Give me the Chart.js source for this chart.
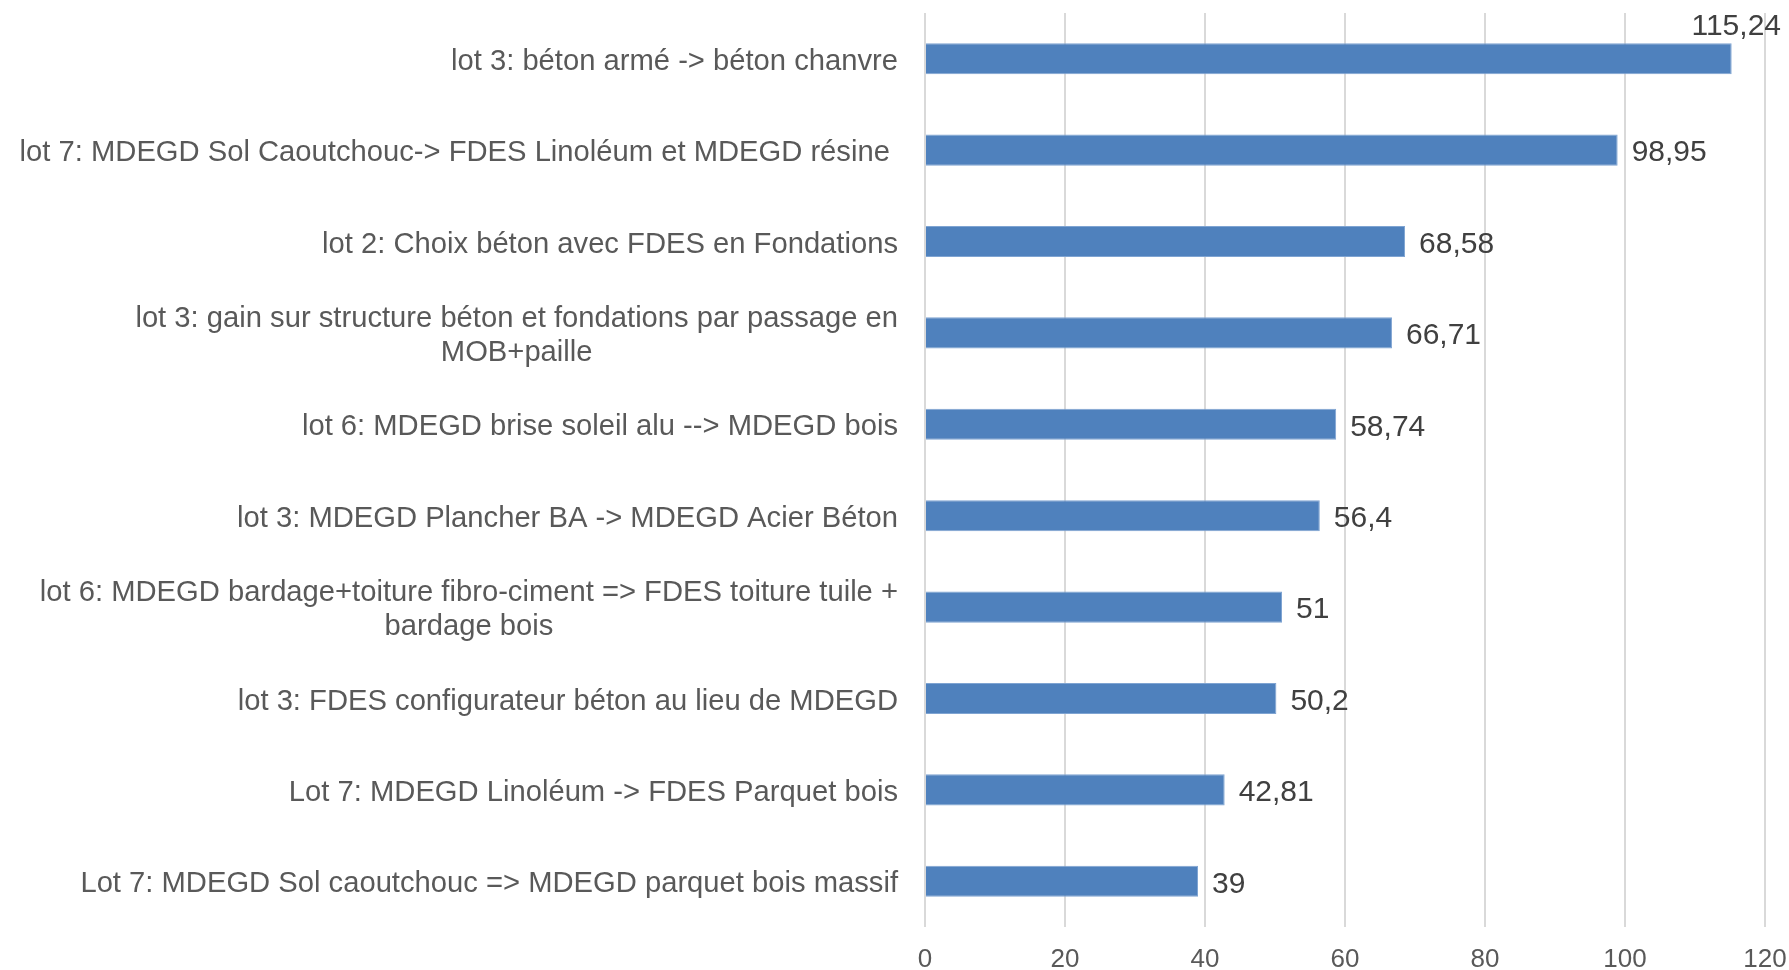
<!DOCTYPE html>
<html>
<head>
<meta charset="utf-8">
<script src="https://cdn.jsdelivr.net/npm/chart.js@4/dist/chart.umd.min.js"></script>
<style>
    html, body { margin: 0; padding: 0; background: #fff; }
    #wrap { width: 1789px; height: 970px; }
</style>
</head>
<body>
<div id="wrap"><canvas id="barChart"></canvas></div>
<script>
// Categories (top to bottom), multi-line ones as arrays
const categories = [
    ['lot 3: béton armé -> béton chanvre'],
    ['lot 7: MDEGD Sol Caoutchouc-> FDES Linoléum et MDEGD résine '],
    ['lot 2: Choix béton avec FDES en Fondations'],
    ['lot 3: gain sur structure béton et fondations par passage en', 'MOB+paille'],
    ['lot 6: MDEGD brise soleil alu --> MDEGD bois'],
    ['lot 3: MDEGD Plancher BA -> MDEGD Acier Béton'],
    ['lot 6: MDEGD bardage+toiture fibro-ciment => FDES toiture tuile +', 'bardage bois'],
    ['lot 3: FDES configurateur béton au lieu de MDEGD'],
    ['Lot 7: MDEGD Linoléum -> FDES Parquet bois'],
    ['Lot 7: MDEGD Sol caoutchouc => MDEGD parquet bois massif']
];
const values = [115.24, 98.95, 68.58, 66.71, 58.74, 56.4, 51, 50.2, 42.81, 39];
const xTicks = [0, 20, 40, 60, 80, 100, 120];

const FONT = '"Liberation Sans", Arial, sans-serif';

function frNumber(v) {
    return String(v).replace('.', ',');
}

// Draws the category labels (right aligned block, lines centred on each other)
const categoryLabels = {
    id: 'categoryLabels',
    afterDraw(chart) {
        const ctx = chart.ctx;
        const yScale = chart.scales.y;
        const rightEdge = chart.chartArea.left - 27;
        const lineH = 34;
        ctx.save();
        ctx.font = '29.2px ' + FONT;
        ctx.fillStyle = '#595959';
        ctx.textBaseline = 'middle';
        ctx.textAlign = 'center';
        categories.forEach(function(lines, i) {
            const yc = yScale.getPixelForValue(i) + 3;
            const widest = Math.max.apply(null, lines.map(l => ctx.measureText(l.trimEnd()).width));
            const trailing = ctx.measureText(lines[0]).width - ctx.measureText(lines[0].trimEnd()).width;
            const mid = rightEdge - trailing - widest / 2;
            lines.forEach(function(line, j) {
                const y = yc + (j - (lines.length - 1) / 2) * lineH;
                ctx.fillText(line.trimEnd(), mid, y);
            });
        });
        ctx.restore();
    }
};

// Value labels at the end of each bar
const valueLabels = {
    id: 'valueLabels',
    afterDatasetsDraw(chart) {
        const ctx = chart.ctx;
        const meta = chart.getDatasetMeta(0);
        ctx.save();
        ctx.font = '30px ' + FONT;
        ctx.fillStyle = '#404040';
        ctx.textBaseline = 'middle';
        ctx.textAlign = 'left';
        meta.data.forEach(function(bar, i) {
            const txt = frNumber(values[i]);
            const w = ctx.measureText(txt).width;
            let x = bar.x + 14;
            let y = bar.y + 3;
            if (x + w > chart.width - 6) {
                x = chart.width - 8 - w;
                y = bar.y - 32;
            }
            ctx.fillText(txt, x, y);
        });
        ctx.restore();
    }
};

new Chart(document.getElementById('barChart').getContext('2d'), {
    type: 'bar',
    data: {
        labels: categories,
        datasets: [{
            data: values,
            backgroundColor: '#4f81bd',
            borderColor: '#7fa4d2',
            borderWidth: 1,
            barPercentage: 0.34,
            categoryPercentage: 1
        }]
    },
    options: {
        indexAxis: 'y',
        responsive: true,
        maintainAspectRatio: false,
        animation: false,
        layout: { padding: { top: 13, right: 24, left: 0, bottom: 0 } },
        plugins: {
            legend: { display: false },
            tooltip: { enabled: false }
        },
        scales: {
            x: {
                min: 0,
                max: 120,
                afterBuildTicks(scale) {
                    scale.ticks = xTicks.map(v => ({ value: v }));
                },
                grid: { color: '#d9d9d9', lineWidth: 2, drawTicks: false },
                border: { display: false },
                ticks: {
                    color: '#595959',
                    font: { family: FONT, size: 26 },
                    padding: 17
                },
                afterFit(scale) {
                    scale.height = 43;
                    scale.paddingRight = 0;
                    scale.paddingLeft = 0;
                }
            },
            y: {
                grid: { display: false },
                border: { display: false },
                ticks: { display: false },
                afterFit(scale) { scale.width = 925; }
            }
        }
    },
    plugins: [categoryLabels, valueLabels]
});
</script>
</body>
</html>
